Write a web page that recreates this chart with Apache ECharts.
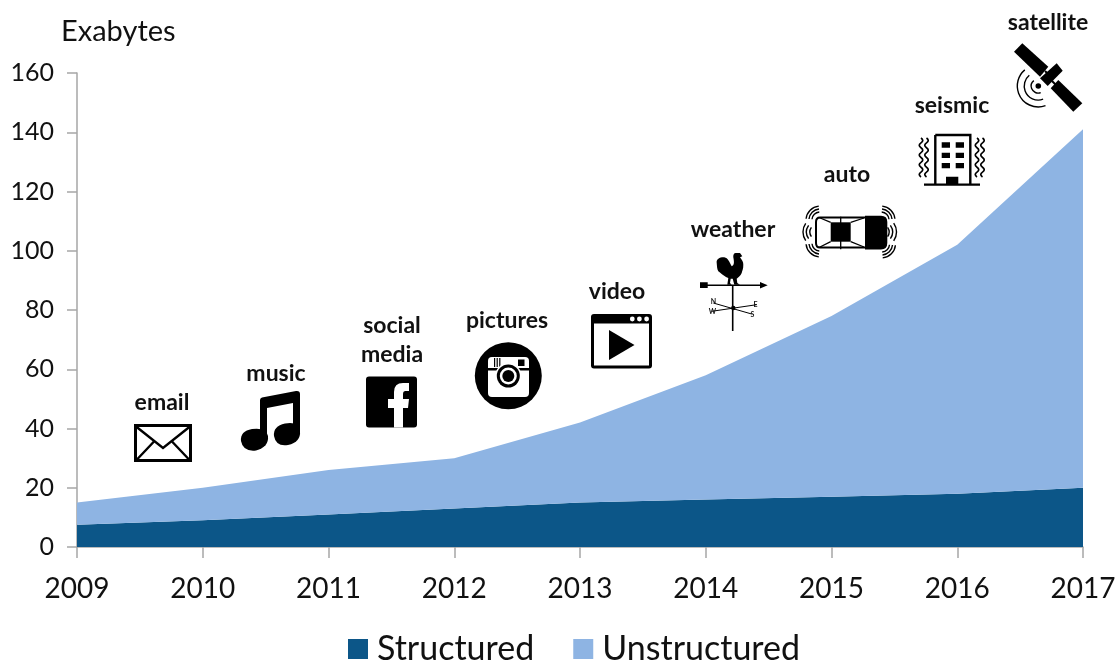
<!DOCTYPE html>
<html>
<head>
<meta charset="utf-8">
<style>
  html, body { margin: 0; padding: 0; background: #fff; }
  #main { width: 1117px; height: 660px; }
</style>
<script src="https://cdn.jsdelivr.net/npm/echarts@6/dist/echarts.min.js"></script>
</head>
<body>
<div id="main"></div>
<script>
const years = ['2009', '2010', '2011', '2012', '2013', '2014', '2015', '2016', '2017']
const structured = [7.5, 9, 11, 13, 15, 16, 17, 18, 20]
const unstructured = [7.5, 11, 15, 17, 27, 42, 61, 84, 121]

const FONT = 'Lato'
const INK = '#000'
const TEXT = '#111'
const AXIS = '#a6a6a6'

// concentric signal arcs, angles in degrees (screen coords, clockwise)
const arcs = (cx, cy, a0, a1, radii) => radii.map(r => {
  const p = a => [(cx + r * Math.cos(a * Math.PI / 180)).toFixed(1), (cy + r * Math.sin(a * Math.PI / 180)).toFixed(1)]
  const s = p(a0), e = p(a1)
  return `M${s[0]} ${s[1]}A${r} ${r} 0 ${a1 - a0 > 180 ? 1 : 0} 1 ${e[0]} ${e[1]}`
}).join('')

const disc = (cx, cy, r) => `M${cx - r} ${cy}A${r} ${r} 0 1 1 ${cx + r} ${cy}A${r} ${r} 0 1 1 ${cx - r} ${cy}Z`

// vertical wiggle next to the building
const wiggle = (x, y0, y1, steps) => {
  let d = `M${x} ${y0}`
  const h = (y1 - y0) / steps
  for (let i = 0; i < steps; i++) {
    const side = i % 2 ? -3.5 : 3.5
    d += `Q${x + side} ${y0 + h * (i + 0.5)} ${x} ${y0 + h * (i + 1)}`
  }
  return d
}

const fill = (d, color) => ({ d, fill: color || INK })
const line = (d, w) => ({ d, stroke: INK, width: w || 1.3 })

// captions over the area, page pixels
const notes = [
  { text: 'email', x: 162, y: 402.5 },
  { text: 'music', x: 276, y: 374 },
  { text: 'social', x: 392, y: 326 },
  { text: 'media', x: 392, y: 354.5 },
  { text: 'pictures', x: 507, y: 321 },
  { text: 'video', x: 617, y: 292 },
  { text: 'weather', x: 733, y: 230 },
  { text: 'auto', x: 847, y: 175 },
  { text: 'seismic', x: 952, y: 105.5 },
  { text: 'satellite', x: 1048, y: 22.5 }
]

// tiny letters on the weather vane
const vaneLetters = [
  { text: 'N', x: 713.5, y: 302 },
  { text: 'E', x: 755.5, y: 304.5 },
  { text: 'W', x: 712.5, y: 311.5 },
  { text: 'S', x: 752.5, y: 314.5 }
]

const icons = [
  // email
  line('M135.5 425.5H190.5V460.5H135.5Z', 3),
  line('M136 426.5L163 448L190 426.5', 2.4),
  line('M136.5 460L154 441.5M189.5 460L172 441.5', 2.4),
  // music
  fill('M260 400Q260 398 262 397.5L296 391Q300 390.5 300 394V434L293 434V403L267 408V440L260 440Z'),
  fill('M241 441Q240 431 252 429Q266 427 268 436Q269 447 256 450.5Q243 452 241 441Z'),
  fill('M274 436Q273 426 285 423.5Q299 421 300 431Q301 442 288 445Q276 447 274 436Z'),
  // facebook
  fill('M369 376.5H414Q417 376.5 417 379.5V424.5Q417 427.5 414 427.5H369Q366 427.5 366 424.5V379.5Q366 376.5 369 376.5Z'),
  fill('M394 427.5V408H388V399H394V392Q394 383 403 383H409V391H405.5Q403 391 403 394V399H409L408 408H403V427.5Z', '#fff'),
  // pictures
  fill(disc(508.3, 375.7, 33.5)),
  fill('M492 357H525Q529 357 529 361V393Q529 397 525 397H492Q488 397 488 393V361Q488 357 492 357Z', '#fff'),
  fill('M488 368H529V370.5H488Z'),
  fill('M494 358H495.2V367H494ZM496.6 358H497.8V367H496.6ZM499.2 358H500.4V367H499.2ZM518 359.5H524.5V366H518Z'),
  fill(disc(508.3, 376, 13), '#fff'),
  fill(disc(508.3, 376, 11.5)),
  fill(disc(508.3, 376, 8.5), '#fff'),
  fill(disc(508.3, 376, 6)),
  // video
  line('M594 315.5H649Q650.5 315.5 650.5 317V365.5Q650.5 367 649 367H594Q592.5 367 592.5 365.5V317Q592.5 315.5 594 315.5Z', 3),
  fill('M592 315H651V323.5H592Z'),
  fill(disc(632.3, 319, 2.4) + disc(639.4, 319, 2.4) + disc(646.6, 319, 2.4), '#fff'),
  fill('M609 330L634.5 345L609 360Z'),
  // weather
  line('M705 285.3H762M732.7 285.3V331', 1.6),
  fill('M700 282.3H707.7V288H700ZM760 282L767.7 285.3L760 288.6Z'),
  fill('M716.7 263C716 259 720 257 724.3 257.3C728 258 729.5 262 731.7 266.3C734 265.5 734.5 263 733.3 257.3C733 255 734 253 735.7 253L740 253L742.3 256.3L740 257.3C742 260 743.5 262 743.3 264.7C743.5 269 742 271 741.7 273C740.5 276 738 277.5 736.7 278.7L737.3 283L740 284.7H734.3L732.7 278.7H730.7L730 283L731.7 284.7H727.3L728.3 278C725 277 723 275 718.3 271.3C717 269 717 266 716.7 263Z'),
  line('M713.3 303L751.7 314M711.7 311.3L756.7 304.7', 1),
  fill(disc(733.3, 308, 2.2)),
  // auto
  line('M820 217.5H866V247.5H820Q816 247.5 816 243V222Q816 217.5 820 217.5Z', 2),
  fill('M865 215.8H881Q887.3 215.8 887.3 222V243Q887.3 249.5 881 249.5H865Z'),
  fill('M830.7 222.3H850.7V241.7H830.7Z'),
  line('M819 217.5L830.7 222.3M864 218L850.7 222.3M819 247.5L830.7 241.7M864 247L850.7 241.7M840.7 216.7V249.3', 1.3),
  line(arcs(820, 220, 185, 265, [8, 11, 14]) + arcs(881, 220, 275, 355, [8, 11, 14]) + arcs(820, 243, 95, 175, [8, 11, 14]) + arcs(881.5, 244, 5, 85, [8, 11, 14]), 1.4),
  line(arcs(818, 232, 145, 215, [8, 11.5, 15]) + arcs(881, 232, -35, 35, [8, 11.5, 15.5]), 1.4),
  // seismic
  line('M935.3 135H970.3V184M935.3 135V184', 2.4),
  line('M924 184.7H980', 2.2),
  fill('M941.7 142.3H950V147.7H941.7ZM955.7 142.3H964V147.7H955.7ZM941.7 152.7H950V158H941.7ZM955.7 152.7H964V158H955.7ZM941.7 163H950V168.3H941.7ZM955.7 163H964V168.3H955.7ZM946 176.7H958.3V184.5H946Z'),
  line(wiggle(921, 138, 177, 8) + wiggle(926.5, 138, 177, 8) + wiggle(977, 138, 177, 8) + wiggle(982.5, 138, 177, 8), 1.7),
  // satellite
  fill('M1022.3 43.3L1014 51.7L1040 76.7L1048.3 66.7Z'),
  fill('M1056.7 63.3L1062.7 70.7L1047.7 86L1040 78.3Z'),
  fill('M1058.3 80L1082.3 103.3L1073.3 111.7L1050.7 88.3Z'),
  line('M1045 71L1050 76M1052 81L1056 85', 2),
  fill(disc(1038.3, 86, 2.8)),
  line(arcs(1038.3, 86, 70, 230, [7, 14, 21]), 1.4)
]

const chart = echarts.init(document.getElementById('main'))

chart.setOption({
  animation: false,
  backgroundColor: '#fff',
  textStyle: { fontFamily: FONT },
  title: {
    text: 'Exabytes',
    left: 56,
    top: 12,
    textStyle: { fontFamily: FONT, fontSize: 29, fontWeight: 'normal', color: TEXT }
  },
  legend: {
    data: [{ name: 'Structured', icon: 'rect' }, { name: 'Unstructured', icon: 'rect' }],
    left: 343,
    top: 627,
    itemWidth: 20,
    itemHeight: 20,
    itemGap: 39,
    textStyle: { fontFamily: FONT, fontSize: 34, color: TEXT, padding: [0, 0, 0, 4] }
  },
  grid: { left: 77, right: 34, top: 73, bottom: 113, outerBoundsMode: 'none' },
  xAxis: {
    type: 'category',
    boundaryGap: false,
    data: years,
    axisLine: { lineStyle: { color: AXIS, width: 1.5 } },
    axisTick: { length: 11, lineStyle: { color: AXIS, width: 1.5 } },
    axisLabel: { fontSize: 28, color: TEXT, margin: 28, hideOverlap: false, showMinLabel: true, showMaxLabel: true }
  },
  yAxis: {
    type: 'value',
    min: 0,
    max: 160,
    interval: 20,
    splitLine: { show: false },
    axisLine: { show: true, lineStyle: { color: AXIS, width: 1.5 } },
    axisTick: { show: true, length: 10, lineStyle: { color: AXIS, width: 1.5 } },
    axisLabel: { fontSize: 25, color: TEXT, margin: 23 }
  },
  series: [
    {
      name: 'Structured',
      type: 'line',
      stack: 'total',
      data: structured,
      symbol: 'none',
      lineStyle: { width: 0 },
      itemStyle: { color: '#0c5688' },
      areaStyle: { color: '#0c5688', opacity: 1 }
    },
    {
      name: 'Unstructured',
      type: 'line',
      stack: 'total',
      data: unstructured,
      symbol: 'none',
      lineStyle: { width: 0 },
      itemStyle: { color: '#8eb4e3' },
      areaStyle: { color: '#8eb4e3', opacity: 1 }
    },
    {
      // icons and their captions
      type: 'custom',
      coordinateSystem: 'none',
      silent: true,
      data: [0],
      renderItem: () => ({
        type: 'group',
        children: icons.map(ic => ({
          type: 'path',
          shape: { pathData: ic.d },
          style: {
            fill: ic.fill || null,
            stroke: ic.stroke || null,
            lineWidth: ic.width || 0
          }
        })).concat(notes.map(n => ({
          type: 'text',
          style: {
            text: n.text,
            x: n.x,
            y: n.y,
            textAlign: 'center',
            textVerticalAlign: 'middle',
            fontFamily: FONT,
            fontSize: 23,
            fontWeight: 'bold',
            fill: TEXT
          }
        }))).concat(vaneLetters.map(n => ({
          type: 'text',
          style: {
            text: n.text,
            x: n.x,
            y: n.y,
            textAlign: 'center',
            textVerticalAlign: 'middle',
            fontFamily: FONT,
            fontSize: 7,
            fontWeight: 'bold',
            fill: TEXT
          }
        })))
      })
    }
  ]
})
</script>
</body>
</html>
